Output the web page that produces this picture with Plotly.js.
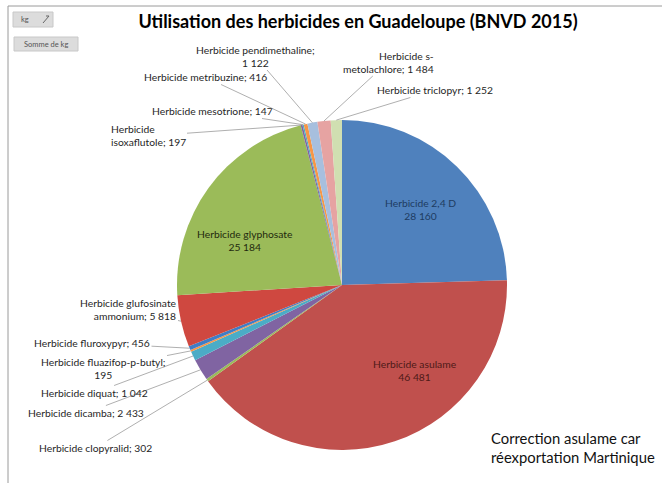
<!DOCTYPE html>
<html>
<head>
<meta charset="utf-8">
<script src="https://cdn.plot.ly/plotly-3.0.1.min.js"></script>
<style>html,body{margin:0;padding:0;background:#fff;}#chart{width:662px;height:483px;}</style>
</head>
<body>
<div id="chart"></div>
<script>
// ---- DATA ----
const categories = [
  "Herbicide 2,4 D", "Herbicide asulame", "Herbicide clopyralid", "Herbicide dicamba",
  "Herbicide diquat", "Herbicide fluazifop-p-butyl", "Herbicide fluroxypyr",
  "Herbicide glufosinate ammonium", "Herbicide glyphosate", "Herbicide isoxaflutole",
  "Herbicide mesotrione", "Herbicide metribuzine", "Herbicide pendimethaline",
  "Herbicide s-metolachlore", "Herbicide triclopyr"
];
const values = [28160, 46481, 302, 2433, 1042, 195, 456, 5818, 25184, 197, 147, 416, 1122, 1484, 1252];
const titleText = "Utilisation des herbicides en Guadeloupe (BNVD 2015)";
const noteText = "Correction asulame car<br>réexportation Martinique";

// ---- STYLE ----
const colors = ["#4F81BD", "#C0504D", "#9BBB59", "#8064A2", "#4BACC6", "#F79646",
                "#3F7DC6", "#CF4840", "#9BBB59", "#8064A2", "#4BACC6", "#F79646",
                "#A7BFDE", "#E6A3A2", "#D0DFB1"];
const W = 662, H = 483;
const pie = {cx: 342, cy: 285, r: 165};
const FONT = "Lato, 'Open Sans', sans-serif";
const LS = 10.3;

// label placement (pixel centre of text box), one per slice
const labelLayout = [
  {inside: true, x: 420, y: 209, color: "#1E3C62"},
  {inside: true, x: 415, y: 385, color: "#4E1A18"},
  {x: 95, y: 448, align: "left"},
  {x: 86, y: 413, align: "left"},
  {x: 94, y: 393, align: "left"},
  {x: 103, y: 368, align: "center", brk: "; "},
  {x: 92, y: 343, align: "left"},
  {x: 128, y: 309, align: "right", brk: "glufosinate "},
  {inside: true, x: 245, y: 240, color: "#1F2A0E"},
  {x: 148, y: 136, align: "left", brk: "Herbicide "},
  {x: 212, y: 111, align: "left"},
  {x: 205, y: 77, align: "left"},
  {x: 255, y: 56, align: "center", brk: "; "},
  {x: 388, y: 62, align: "right", brk: "s-"},
  {x: 435, y: 90, align: "left"}
];

function fmt(v) { return String(v).replace(/\B(?=(\d{3})+(?!\d))/g, " "); }

const total = values.reduce((a, b) => a + b, 0);
const annotations = [];
let cum = 0;
values.forEach((v, i) => {
  const mid = (cum + v / 2) / total * 2 * Math.PI;
  cum += v;
  const L = labelLayout[i];
  if (L.inside) {
    annotations.push({
      xref: "paper", yref: "paper", x: L.x / W, y: 1 - L.y / H,
      text: categories[i] + "<br>" + fmt(v), showarrow: false, align: "center",
      font: {family: FONT, size: LS, color: L.color}
    });
  } else {
    let t = categories[i] + "; " + fmt(v);
    if (L.brk) t = t.replace(L.brk, L.brk.trimEnd() + "<br>");
    const tx = pie.cx + pie.r * Math.sin(mid);
    const ty = pie.cy - pie.r * Math.cos(mid);
    annotations.push({
      xref: "paper", yref: "paper", x: tx / W, y: 1 - ty / H,
      ax: L.x - tx, ay: L.y - ty, axref: "pixel", ayref: "pixel",
      text: t, align: L.align, showarrow: true, arrowhead: 0, arrowwidth: 0.7,
      arrowcolor: "#8C8C8C", standoff: 0, startstandoff: 0,
      font: {family: FONT, size: LS, color: "#262626"}
    });
  }
});

// UI decorations (pivot buttons) and note
annotations.push({xref: "paper", yref: "paper", x: 19 / W, y: 1 - 19.5 / H, xanchor: "left", yanchor: "middle",
  text: "kg", showarrow: false, font: {family: FONT, size: 7.5, color: "#555"}});
annotations.push({xref: "paper", yref: "paper", x: 46 / W, y: 1 - 44 / H, xanchor: "center", yanchor: "middle",
  text: "Somme de kg", showarrow: false, font: {family: FONT, size: 7.5, color: "#555"}});
annotations.push({xref: "paper", yref: "paper", x: 489 / W, y: 1 - 447 / H, xanchor: "left", yanchor: "middle",
  text: noteText, align: "left", showarrow: false, font: {family: FONT, size: 14.8, color: "#111"}});

const shapes = [
  {type: "line", xref: "paper", yref: "paper", x0: 8 / W, x1: 1, y0: 1 - 6 / H, y1: 1 - 6 / H, line: {color: "#9A9A9A", width: 1}},
  {type: "line", xref: "paper", yref: "paper", x0: 8 / W, x1: 8 / W, y0: 0, y1: 1 - 6 / H, line: {color: "#9A9A9A", width: 1}},
  {type: "rect", xref: "paper", yref: "paper", x0: 13 / W, x1: 53 / W, y0: 1 - 27 / H, y1: 1 - 12 / H,
    fillcolor: "#DCDCDC", line: {color: "#C8C8C8", width: 1}},
  {type: "rect", xref: "paper", yref: "paper", x0: 14 / W, x1: 78 / W, y0: 1 - 51 / H, y1: 1 - 37 / H,
    fillcolor: "#DCDCDC", line: {color: "#C8C8C8", width: 1}},
  {type: "line", xref: "paper", yref: "paper", x0: 43 / W, x1: 49 / W, y0: 1 - 23 / H, y1: 1 - 16 / H, line: {color: "#666", width: 1}},
  {type: "line", xref: "paper", yref: "paper", x0: 46 / W, x1: 49 / W, y0: 1 - 16 / H, y1: 1 - 16 / H, line: {color: "#666", width: 1}}
];

const trace = {
  type: "pie",
  labels: categories,
  values: values,
  sort: false,
  direction: "clockwise",
  rotation: 0,
  textinfo: "none",
  hoverinfo: "label+value",
  marker: {colors: colors, line: {width: 0}},
  domain: {
    x: [(pie.cx - pie.r) / W, (pie.cx + pie.r) / W],
    y: [1 - (pie.cy + pie.r) / H, 1 - (pie.cy - pie.r) / H]
  },
  showlegend: false
};

const layout = {
  width: W, height: H,
  margin: {l: 0, r: 0, t: 0, b: 0},
  paper_bgcolor: "#fff",
  title: {text: "<b>" + titleText + "</b>", x: 358 / W, xanchor: "center", y: 1 - 22 / H, yanchor: "middle",
    font: {family: FONT, size: 18, color: "#000"}},
  annotations: annotations,
  shapes: shapes,
  showlegend: false
};

Plotly.newPlot("chart", [trace], layout, {displayModeBar: false, staticPlot: true});
</script>
</body>
</html>
